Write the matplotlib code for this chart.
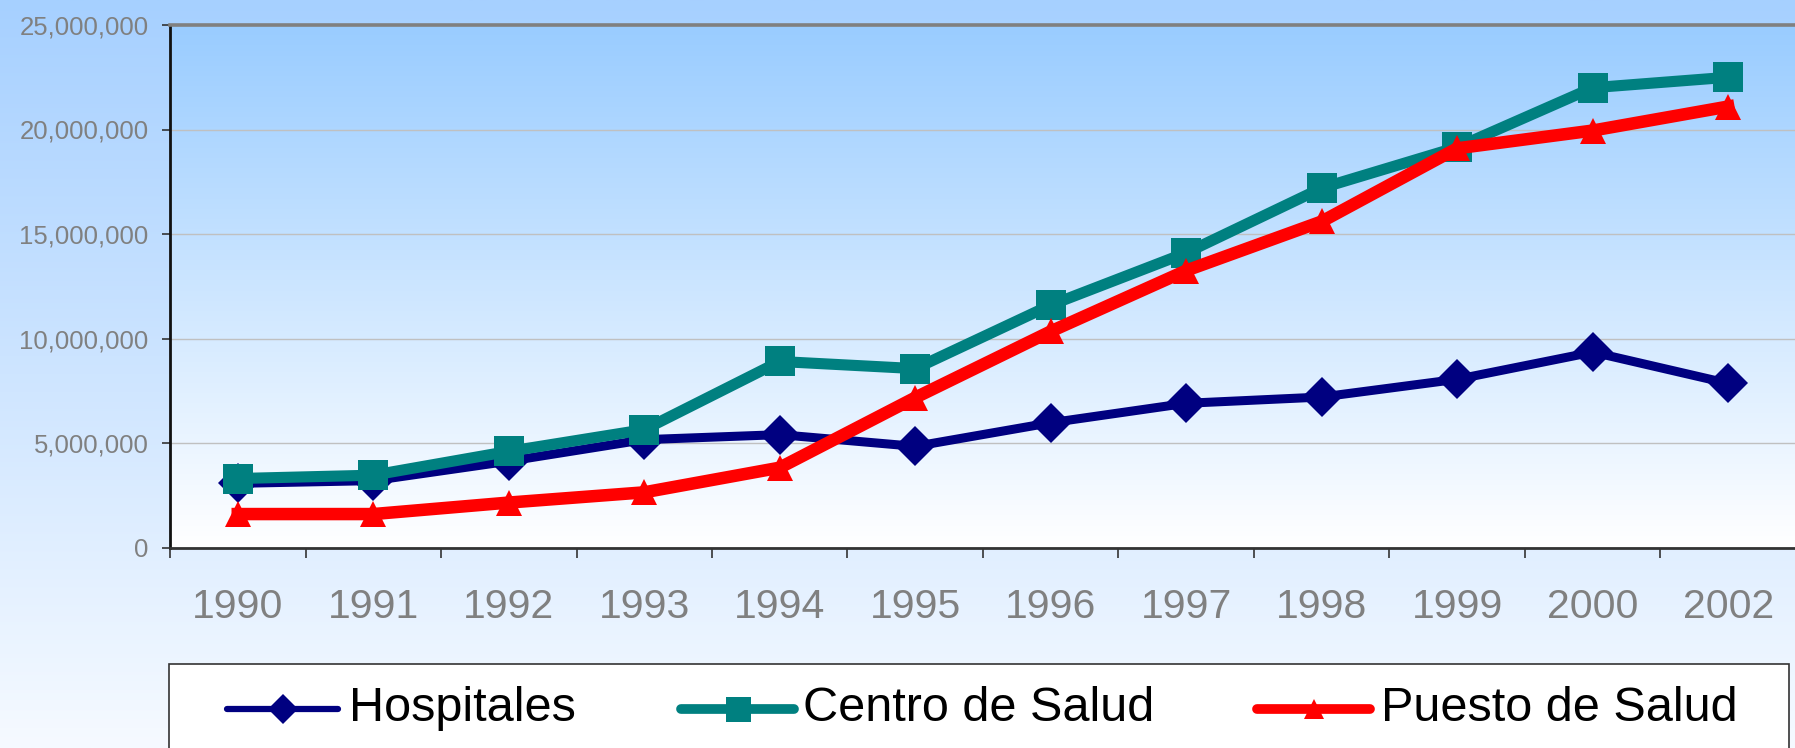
import numpy as np
import matplotlib
matplotlib.use("Agg")
import matplotlib.pyplot as plt
from matplotlib.lines import Line2D
from matplotlib.patches import Rectangle
from matplotlib.ticker import FuncFormatter, MultipleLocator

# ---------------- data ----------------
years = ['1990', '1991', '1992', '1993', '1994', '1995', '1996',
         '1997', '1998', '1999', '2000', '2002']
hospitales = [3.07e6, 3.2e6, 4.13e6, 5.16e6, 5.4e6, 4.84e6, 5.97e6,
              6.9e6, 7.2e6, 8.05e6, 9.35e6, 7.85e6]
centro_salud = [3.3e6, 3.46e6, 4.6e6, 5.64e6, 8.9e6, 8.56e6, 11.6e6,
                14.1e6, 17.2e6, 19.15e6, 22.0e6, 22.5e6]
puesto_salud = [1.6e6, 1.6e6, 2.15e6, 2.64e6, 3.82e6, 7.17e6, 10.34e6,
                13.25e6, 15.6e6, 19.1e6, 19.95e6, 21.1e6]
series_names = ['Hospitales', 'Centro de Salud', 'Puesto de Salud']
y_max = 25e6
y_step = 5e6

# ---------------- styles ----------------
W, H = 1795, 748
DPI = 100
colors = ['#000080', '#008080', '#FF0000']
markers = ['D', 's', '^']
msizes = [20, 21, 19]
lwidths = [6.5, 8.0, 9.0]
font = ['Liberation Sans', 'Arial', 'DejaVu Sans']

fig = plt.figure(figsize=(W / DPI, H / DPI), dpi=DPI)

def fx(px):
    return px / W

def fy(py):
    return 1 - py / H

# figure background gradient
bg = fig.add_axes([0, 0, 1, 1], zorder=-10)
t = np.linspace(0, 1, 256)[:, None]
top_c = np.array([166, 208, 255]) / 255
bot_c = np.array([246, 250, 255]) / 255
grad = top_c[None, None, :] * (1 - t[..., None]) + bot_c[None, None, :] * t[..., None]
grad = np.repeat(grad, 2, axis=1)
bg.imshow(grad, aspect='auto', extent=[0, 1, 0, 1], origin='upper')
bg.set_axis_off()

# main axes
left, right, top, bottom = 170, 1796, 25, 547.5
ax = fig.add_axes([fx(left), fy(bottom), fx(right - left), (bottom - top) / H])
ax.set_facecolor('none')

x = np.arange(len(years))

# plot area gradient
ptop = np.array([153, 204, 255]) / 255
pbot = np.array([255, 255, 255]) / 255
pgrad = ptop[None, None, :] * (1 - t[..., None]) + pbot[None, None, :] * t[..., None]
pgrad = np.repeat(pgrad, 2, axis=1)
ax.imshow(pgrad, aspect='auto', extent=[-0.5, len(years) - 0.5, 0, y_max],
          origin='upper', zorder=0)
ax.set_xlim(-0.5, len(years) - 0.5)
ax.set_ylim(0, y_max)

# gridlines
ax.yaxis.set_major_locator(MultipleLocator(y_step))
ax.grid(axis='y', color='#c0c0c0', linewidth=1.0, zorder=1)
ax.set_axisbelow(False)

data = [hospitales, centro_salud, puesto_salud]
for i, (vals, name) in enumerate(zip(data, series_names)):
    ax.plot(x, vals, color=colors[i], lw=lwidths[i], marker=markers[i],
            ms=msizes[i], mec=colors[i], mew=0, label=name, zorder=3 + i,
            solid_joinstyle='round')

# ticks
ax.set_xticks(np.arange(-0.5, len(years), 1.0), minor=False)
ax.set_xticklabels([])
ax.set_xticks(x, minor=True)
ax.set_xticklabels(years, minor=True)
ax.tick_params(axis='x', which='major', length=7.5, width=1.2, color='#333333',
               direction='out')
ax.tick_params(axis='x', which='minor', length=0, pad=29, labelsize=29.5,
               labelcolor='#808080')
for lab in ax.get_xticklabels(minor=True):
    lab.set_family(font)

ax.yaxis.set_major_formatter(FuncFormatter(lambda v, p: f'{int(v):,}'))
ax.tick_params(axis='y', length=6, width=1.2, color='#333333', pad=9.5,
               labelsize=18.5, labelcolor='#808080')
for lab in ax.get_yticklabels():
    lab.set_family(font)

# spines
ax.spines['right'].set_visible(False)
ax.spines['top'].set_color('#808080')
ax.spines['top'].set_linewidth(2.6)
ax.spines['left'].set_color('#111111')
ax.spines['left'].set_linewidth(2.0)
ax.spines['bottom'].set_color('#333333')
ax.spines['bottom'].set_linewidth(2.0)
for s in ax.spines.values():
    s.set_zorder(10)

# legend (manual box, entries use the series styles)
box = Rectangle((fx(169), fy(800)), fx(1789 - 169), (800 - 664) / H,
                transform=fig.transFigure, facecolor='white',
                edgecolor='#333333', linewidth=1.2, zorder=20)
fig.add_artist(box)
leg_handles = [(227, 338, 349), (681, 794, 803), (1257, 1370, 1381)]
leg_line_y = 709
leg_base_y = 721
leg_ms = [15, 18, 15]
leg_lw = [4.5, 7.0, 7.0]
for i, (x0, x1, xt) in enumerate(leg_handles):
    ln = Line2D([fx(x0), fx((x0 + x1) / 2), fx(x1)], [fy(leg_line_y)] * 3,
                transform=fig.transFigure, color=colors[i], lw=leg_lw[i],
                marker=markers[i], markevery=[1], ms=leg_ms[i], mew=0,
                solid_capstyle='round', zorder=21)
    fig.add_artist(ln)
    fig.text(fx(xt), fy(leg_base_y), series_names[i], fontsize=35, family=font,
             color='black', va='baseline', ha='left', zorder=22)

fig.savefig('out.png', dpi=DPI)
